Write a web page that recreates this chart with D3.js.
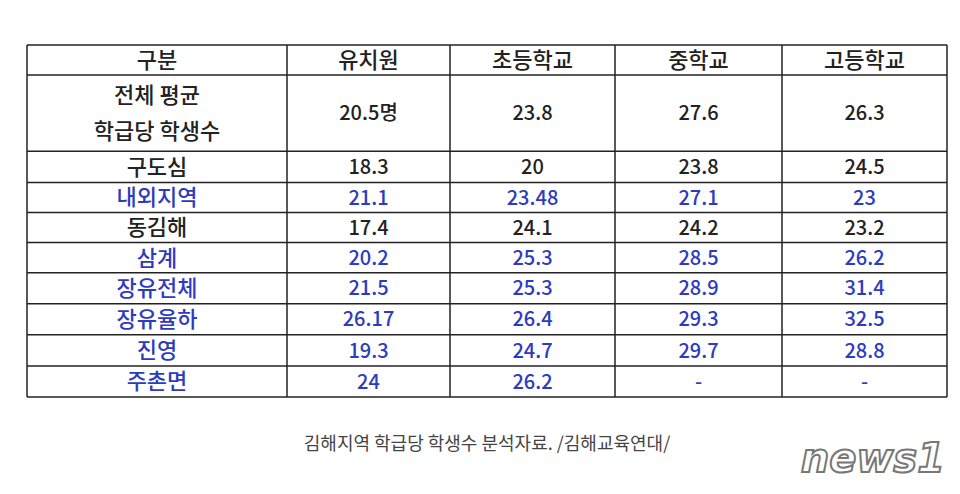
<!DOCTYPE html>
<html><head><meta charset="utf-8">
<script src="https://cdn.jsdelivr.net/npm/d3@7"></script>
<style>body{margin:0;background:#fff}</style></head>
<body><svg id="c" width="960" height="494"></svg>
<script>
const columns = ["구분","유치원","초등학교","중학교","고등학교"];
const rowLabels = ["전체 평균|학급당 학생수","구도심","내외지역","동김해","삼계","장유전체","장유율하","진영","주촌면"];
const kindergarten = ["20.5명","18.3","21.1","17.4","20.2","21.5","26.17","19.3","24"];
const elementary = ["23.8","20","23.48","24.1","25.3","25.3","26.4","24.7","26.2"];
const middle = ["27.6","23.8","27.1","24.2","28.5","28.9","29.3","29.7","-"];
const high = ["26.3","24.5","23","23.2","26.2","31.4","32.5","28.8","-"];
const blueRows = [false,false,true,false,true,true,true,true,true];
const colWeights = [260,163,165,167,165];
const rowWeights = [30,76,31,30,30,30,31,31,31,31];
const caption = "김해지역 학급당 학생수 분석자료. /김해교육연대/";

const svg = d3.select("#c");
const font = "'Noto Sans CJK KR','Noto Sans',sans-serif";
const cx = [0]; colWeights.forEach(w=>cx.push(cx[cx.length-1]+w));
const ry = [0]; rowWeights.forEach(w=>ry.push(ry[ry.length-1]+w));
const x = d3.scaleLinear().domain([0,cx[cx.length-1]]).range([27,947]);
const y = d3.scaleLinear().domain([0,ry[ry.length-1]]).range([45,397]);
const g = svg.append("g");
g.selectAll("line.v").data(cx).join("line").attr("x1",d=>x(d)).attr("x2",d=>x(d))
 .attr("y1",y(0)).attr("y2",y(ry[ry.length-1])).attr("stroke","#222").attr("stroke-width",1.5);
g.selectAll("line.h").data(ry).join("line").attr("y1",d=>y(d)).attr("y2",d=>y(d))
 .attr("x1",x(0)).attr("x2",x(cx[cx.length-1])).attr("stroke","#222").attr("stroke-width",1.5);

function cell(ci,ri,text,color,size){
  const xm=(x(cx[ci])+x(cx[ci+1]))/2, ym=(y(ry[ri])+y(ry[ri+1]))/2;
  const lines=text.split("|");
  const t=g.append("text").attr("x",xm).attr("text-anchor","middle").attr("font-family",font)
   .attr("font-size",size).attr("fill",color).attr("font-weight",500);
  lines.forEach((l,i)=>t.append("tspan").attr("x",xm).attr("y",ym+(i-(lines.length-1)/2)*36).attr("dy","0.36em").text(l));
}
columns.forEach((c,i)=>cell(i,0,c,"#222",22));
const data=[kindergarten,elementary,middle,high];
rowLabels.forEach((r,i)=>{
  const col = blueRows[i]?"#2d3bbf":"#222";
  cell(0,i+1,r,col,22);
  data.forEach((arr,j)=>cell(j+1,i+1,arr[i],col,20));
});
svg.append("text").attr("x",487).attr("y",450).attr("text-anchor","middle").attr("font-family",font)
 .attr("font-size",18).attr("fill","#444").text(caption);
svg.append("text").attr("x",945).attr("y",472).attr("text-anchor","end").attr("font-family","'DejaVu Sans',sans-serif")
 .attr("font-size",40).attr("font-style","italic").attr("font-weight","bold").attr("fill","#fff")
 .attr("stroke","#777").attr("stroke-width",2).text("news1");
</script></body></html>
